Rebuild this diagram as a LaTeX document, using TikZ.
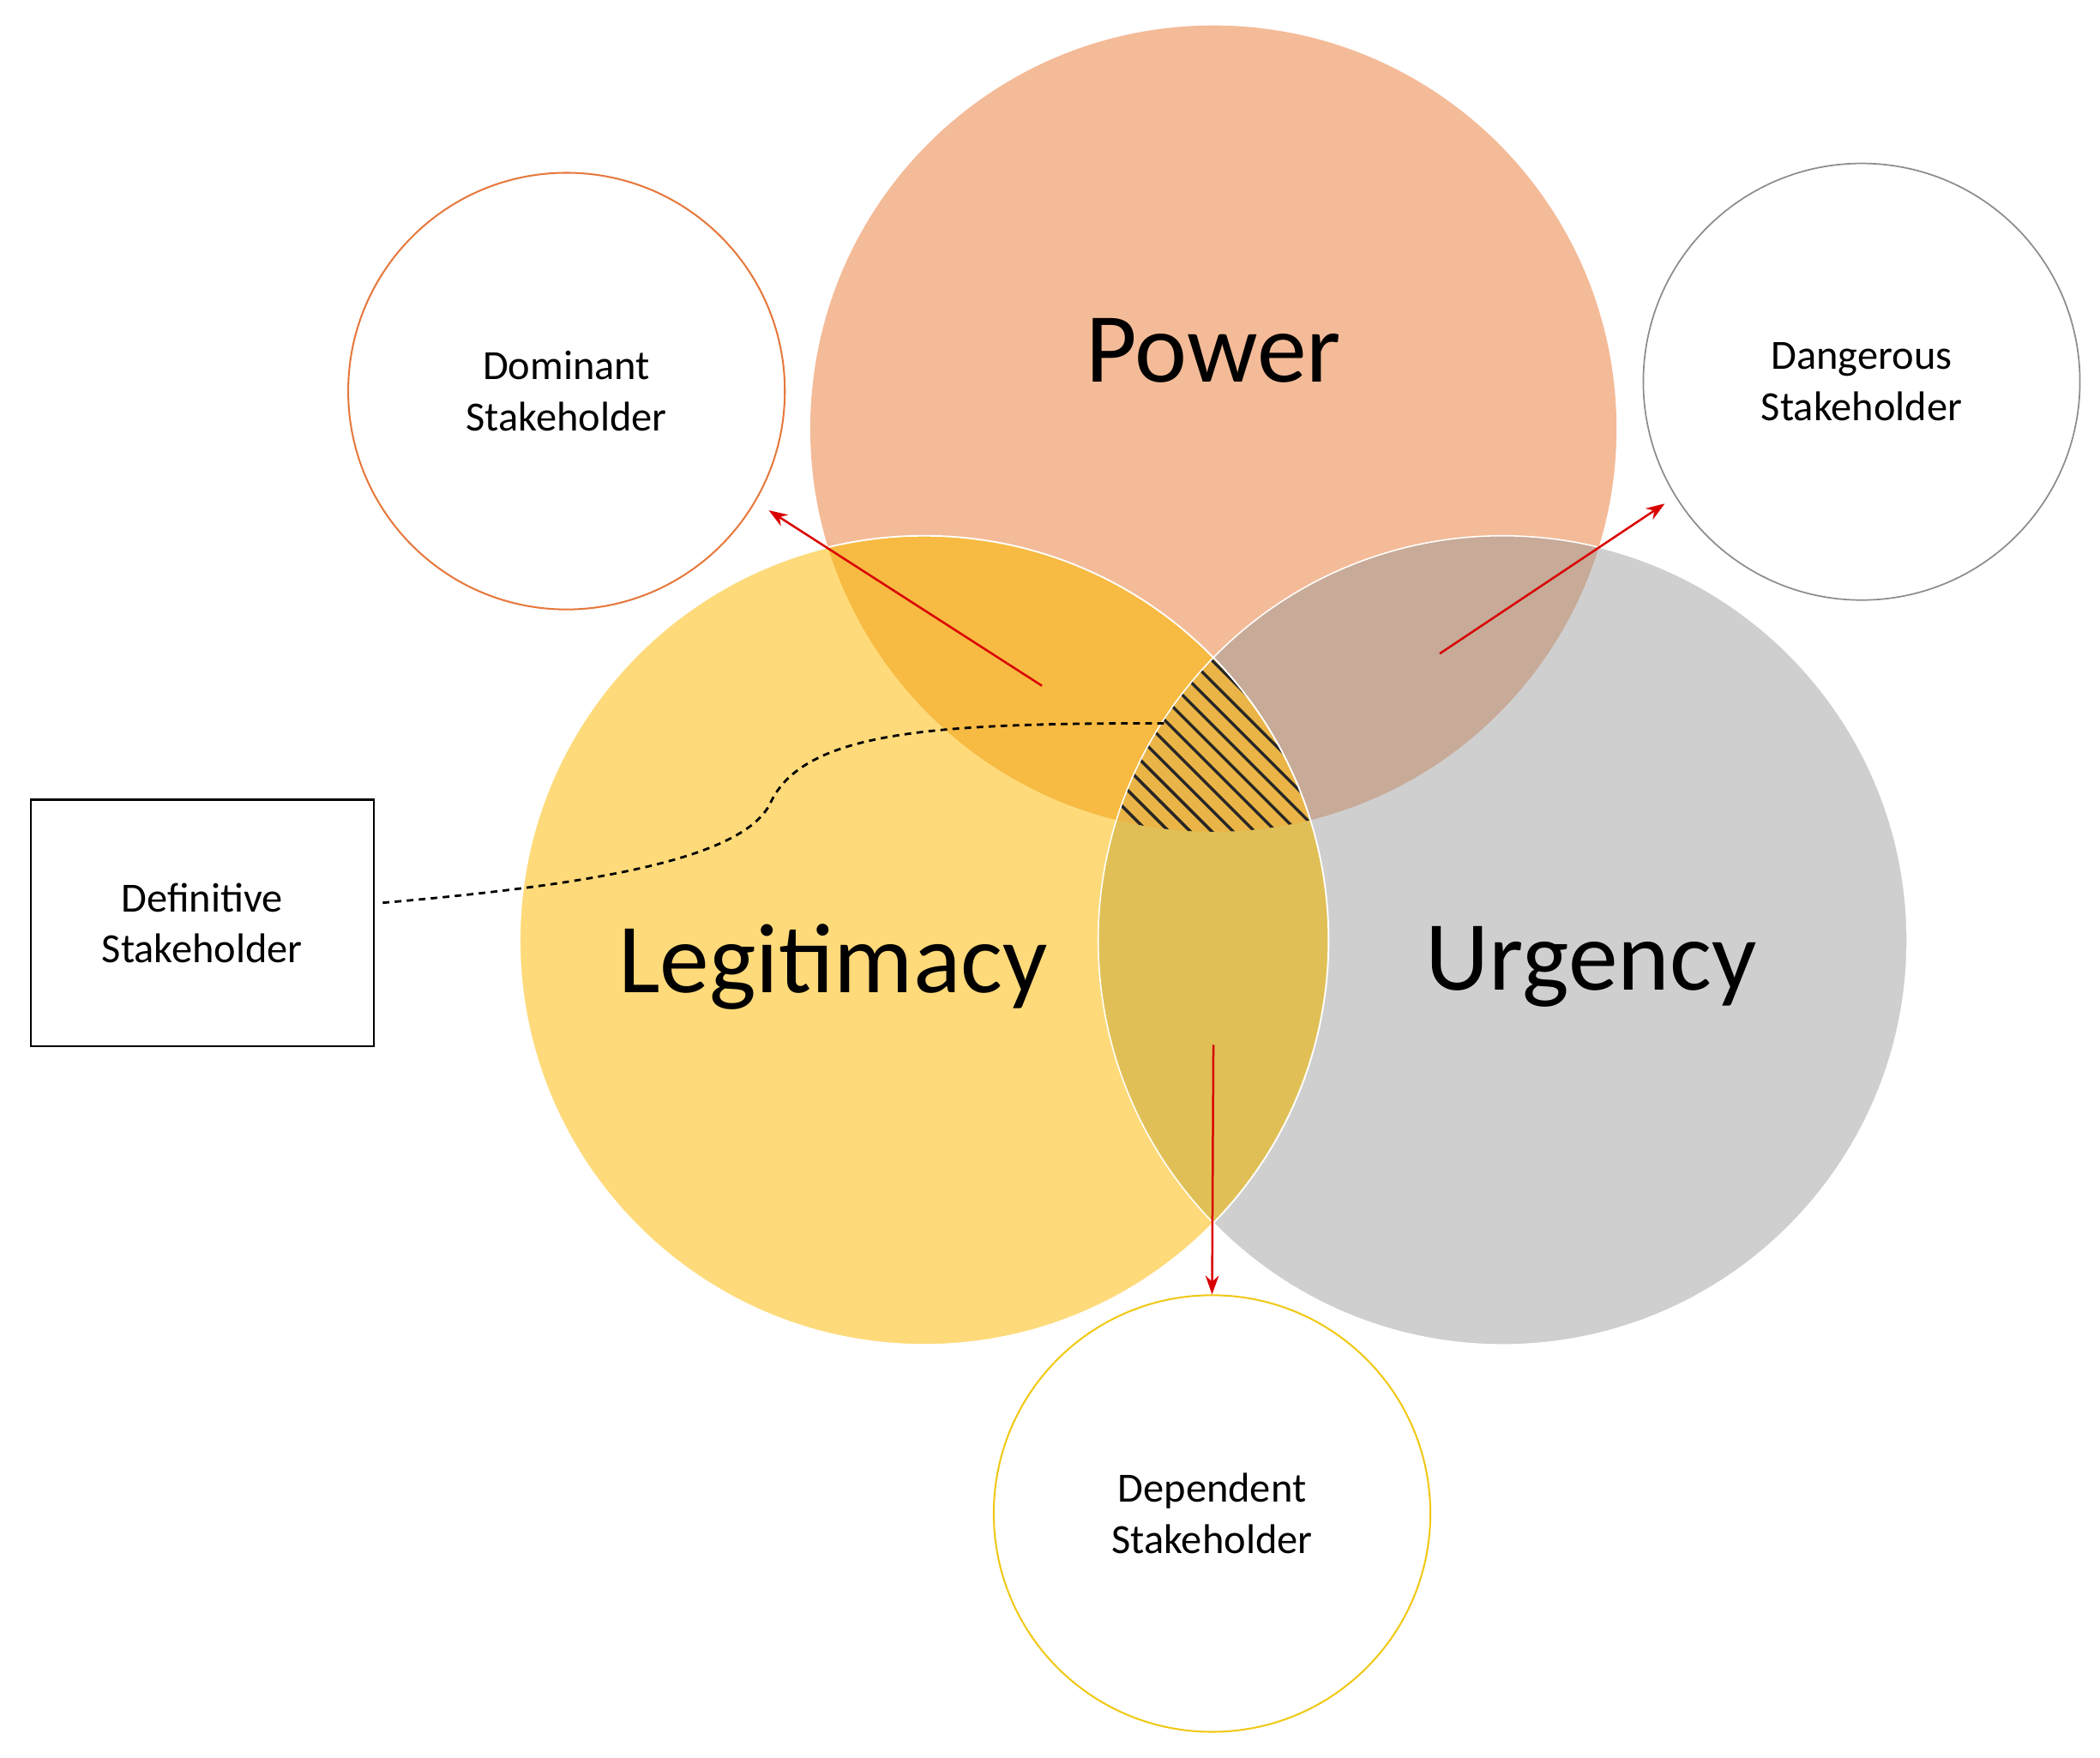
\documentclass[tikz,border=0pt]{standalone}
\usepackage{fontspec}
\usetikzlibrary{arrows.meta}
\setmainfont{Carlito}
\begin{document}
\begin{tikzpicture}[x=1pt,y=-1pt,
  lab/.style={align=center,font=\fontsize{31}{38}\selectfont},
  big/.style={font=\fontsize{74}{80}\selectfont},
  arr/.style={draw=red!85!black,line width=1.6pt,-{Stealth[length=14pt,width=10pt]}}]
\useasboundingbox (0,0) rectangle (1568,1312);
\def\Pc{(906,320) circle (301)}
\def\Lc{(690,702) circle (302)}
\def\Uc{(1122,702) circle (302)}
\fill[fill={rgb,255:red,244;green,187;blue,152}] \Pc;
\fill[fill={rgb,255:red,207;green,207;blue,207}] \Uc;
\fill[fill={rgb,255:red,254;green,218;blue,122}] \Lc;
\begin{scope}\clip \Pc; \fill[fill={rgb,255:red,247;green,186;blue,66}] \Lc; \end{scope}
\begin{scope}\clip \Pc; \fill[fill={rgb,255:red,199;green,170;blue,152}] \Uc; \end{scope}
\begin{scope}\clip \Lc; \fill[fill={rgb,255:red,224;green,192;blue,86}] \Uc; \end{scope}
\begin{scope}\clip \Pc; \clip \Lc; \clip \Uc;
  \fill[fill={rgb,255:red,235;green,180;blue,70}] (700,400) rectangle (1100,700);
  \foreach \k in {-400,-384,...,400} \draw[line width=2.2pt,black!85] (700+\k,400) -- (1000+\k,700);
\end{scope}
\draw[white,line width=1.2pt] \Lc;
\draw[white,line width=1pt] \Uc;
\node[big] (pow) at (906,262) {Power};
\node[big] (leg) at (622,722) {Legitimacy};
\node[big] (urg) at (1188,722) {Urgency};
\node[circle,draw={rgb,255:red,230;green,120;blue,60},line width=1.3pt,minimum size=326pt,lab] (dom) at (423,292) {Dominant\\Stakeholder};
\node[circle,draw=black!45,line width=1.1pt,minimum size=326pt,lab] (dan) at (1390,285) {Dangerous\\Stakeholder};
\node[circle,draw={rgb,255:red,240;green,200;blue,20},line width=1.3pt,minimum size=326pt,lab] (dep) at (905,1130) {Dependent\\Stakeholder};
\node[draw,line width=1.5pt,minimum width=256pt,minimum height=184pt,lab] (def) at (151,689) {Definitive\\Stakeholder};
\coordinate (a1) at (778,512);
\coordinate (a2) at (1075,488);
\coordinate (a3) at (906,780);
\coordinate (h) at (870,540);
\draw[arr] (a1) -- (574,381);
\draw[arr] (a2) -- (1243,376);
\draw[arr] (a3) -- (dep.north);
\draw[dashed,line width=1.8pt,dash pattern=on 5pt off 4pt] (def.east) ++(6,-15) .. controls (450,660) and (555,640) .. (575,600) .. controls (600,545) and (700,540) .. (h);
\end{tikzpicture}
\end{document}
